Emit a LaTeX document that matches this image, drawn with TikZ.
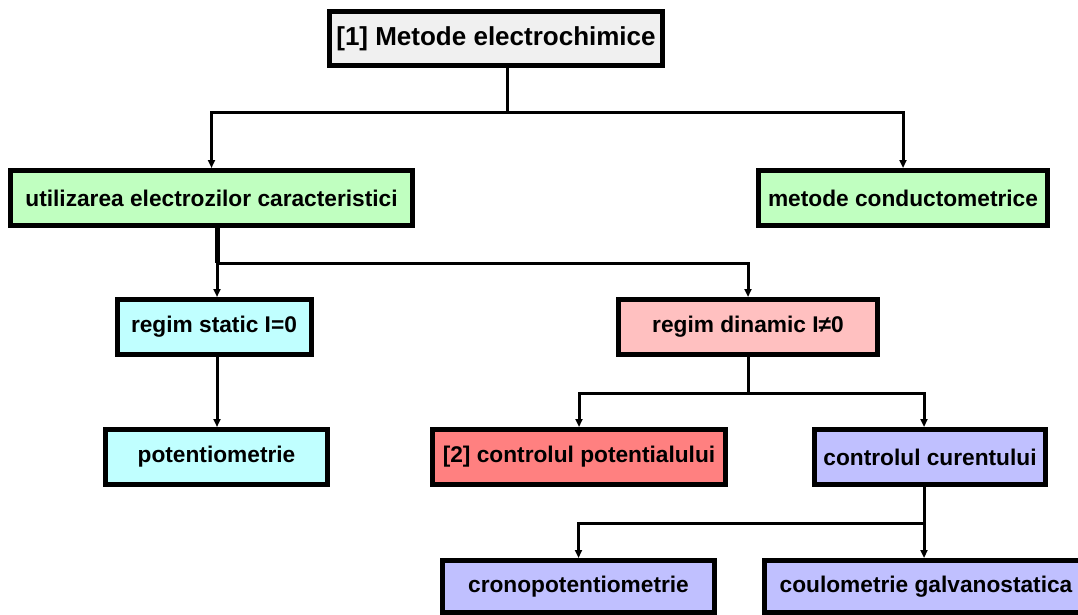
\documentclass[tikz,border=0pt]{standalone}
\usepackage{fontspec}
\setmainfont{Liberation Sans}
\usetikzlibrary{arrows.meta,positioning,calc}

\definecolor{boxgrey}{HTML}{F0F0F0}
\definecolor{boxgreen}{HTML}{C0FFC0}
\definecolor{boxcyan}{HTML}{C0FFFF}
\definecolor{boxpink}{HTML}{FFC0C0}
\definecolor{boxred}{HTML}{FF8080}
\definecolor{boxblue}{HTML}{C0C0FF}

\begin{document}
\begin{tikzpicture}[
  x=1pt, y=-1pt,
  >={Triangle[length=8pt, width=7pt]},
  box/.style={draw, line width=5pt, inner sep=2pt, minimum height=55pt,
              font=\bfseries\fontsize{22.7}{26}\selectfont, align=center},
  top/.style={box, fill=boxgrey, minimum height=54pt,
              font=\bfseries\fontsize{26}{30}\selectfont},
  family/.style={box, fill=boxgreen},
  static/.style={box, fill=boxcyan},
  dynamic/.style={box, fill=boxpink},
  potctl/.style={box, fill=boxred},
  curctl/.style={box, fill=boxblue},
  link/.style={line width=3pt},
  arrow/.style={link, ->}
]
\clip (0,0) rectangle (1078,615);

% boxes, row by row
\node[top, minimum width=333pt]     (root)   at (496,38.5)  {[1] Metode electrochimice};

\node[family, minimum width=402pt]  (electr) at (211.5,198) {utilizarea electrozilor caracteristici};
\node[family, minimum width=289pt]  (cond)   at (903,198)   {metode conductometrice};

\node[static, minimum width=194pt]  (stat)   at (214,327)   {regim static I=0};
\node[dynamic, minimum width=259pt] (dyn)    at (748,327)   {regim dinamic I≠0};

\node[static, minimum width=222pt]  (potm)   at (216.5,457) {potentiometrie};
\node[potctl, minimum width=293pt]  (potctl) at (579,457)   {[2] controlul potentialului};
\node[curctl, minimum width=231pt]  (curctl) at (930,457)   {controlul curentului};

\node[curctl, minimum width=272pt, minimum height=52pt] (crono) at (578.5,586.5) {cronopotentiometrie};
\node[curctl, minimum width=323pt, minimum height=52pt] (coul)  at (926,586.5)   {coulometrie galvanostatica};

% branch points
\coordinate (s1) at ([xshift=11pt, yshift=-45pt]root.south);
\coordinate (s2) at ([xshift=5.5pt, yshift=-35pt]electr.south);
\coordinate (s3) at ([yshift=-36pt]dyn.south);
\coordinate (s4) at ([xshift=-6pt, yshift=-36pt]curctl.south);

\draw[link] ([xshift=11pt]root.south) -- (s1);
\draw[arrow] (s1) -| (electr);
\draw[arrow] (s1) -| (cond);

\draw[link, line width=5pt] ([xshift=5.5pt]electr.south) -- (s2);
\draw[arrow] (s2) -- (s2 |- stat.north);
\draw[arrow] (s2) -| (dyn);

\draw[arrow] (stat.south -| s2) -- (s2 |- potm.north);

\draw[link] (dyn) -- (s3);
\draw[arrow] (s3) -| (potctl);
\draw[arrow] (s3) -| (s4 |- curctl.north);

\draw[link] ([xshift=-6pt]curctl.south) -- (s4);
\draw[arrow] (s4) -| (crono);
\draw[arrow] (s4) -- (s4 |- coul.north);

\end{tikzpicture}
\end{document}
